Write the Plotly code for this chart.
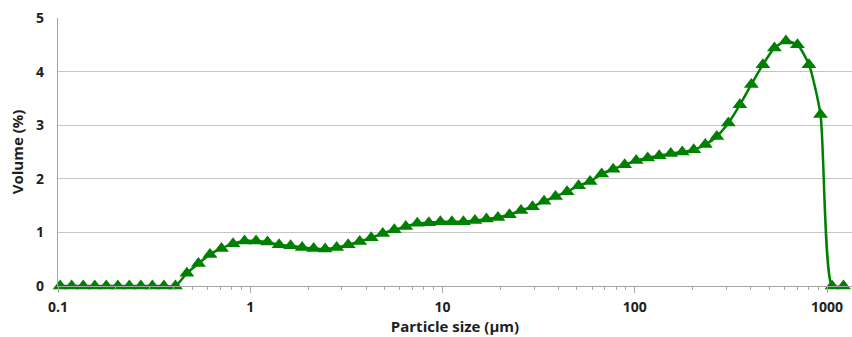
import plotly.graph_objects as go

# Particle size bins (µm)
sizes = [0.1026, 0.1178, 0.1353, 0.1553, 0.1783, 0.2047, 0.2349, 0.2697, 0.3096, 0.3554,
         0.4080, 0.4683, 0.5376, 0.6172, 0.7085, 0.8133, 0.9336, 1.0718, 1.2303, 1.4123,
         1.6212, 1.8611, 2.1364, 2.4525, 2.8153, 3.2318, 3.7099, 4.2588, 4.8889, 5.6122,
         6.4425, 7.3956, 8.4897, 9.7457, 11.1875, 12.8426, 14.7426, 16.9236, 19.4272, 22.3013,
         25.6006, 29.3880, 33.7357, 38.7265, 44.4558, 51.0327, 58.5827, 67.2494, 77.1984, 88.6193,
         101.7301, 116.7806, 134.0551, 153.8891, 176.6038, 202.7298, 232.7215, 267.1509, 306.6738, 352.0437,
         404.1261, 463.9139, 532.5474, 611.3354, 701.7735, 805.5936, 924.7743, 1061.5875, 1218.6270]

# Volume (%)
volume = [0, 0, 0, 0, 0, 0, 0, 0, 0, 0,
          0, 0.24, 0.42, 0.59, 0.70, 0.79, 0.84, 0.84, 0.82, 0.77,
          0.75, 0.72, 0.70, 0.69, 0.72, 0.77, 0.83, 0.90, 0.98, 1.05,
          1.11, 1.17, 1.18, 1.20, 1.20, 1.20, 1.22, 1.25, 1.28, 1.33,
          1.41, 1.48, 1.58, 1.67, 1.76, 1.87, 1.95, 2.09, 2.18, 2.26,
          2.34, 2.39, 2.43, 2.47, 2.50, 2.54, 2.64, 2.79, 3.04, 3.38,
          3.76, 4.13, 4.44, 4.57, 4.50, 4.13, 3.20, 0, 0]

x_ticks = [0.1, 1, 10, 100, 1000]
x_tick_labels = ["0.1", "1", "10", "100", "1000"]
y_ticks = [0, 1, 2, 3, 4, 5]

green = "#008000"
grid = "#c4c4c4"
axis_col = "#a6a6a6"
txt = "#1e1e1e"
font_family = "Open Sans, DejaVu Sans, sans-serif"

fig = go.Figure()
fig.add_trace(go.Scatter(
    x=sizes, y=volume, mode="lines+markers",
    line=dict(color=green, width=2.5, shape="spline", smoothing=0.6),
    marker=dict(symbol="triangle-up", size=13, color=green),
    cliponaxis=False, showlegend=False,
))

fig.update_layout(
    width=852, height=337,
    margin=dict(l=58, r=0, t=18, b=51, autoexpand=False),
    paper_bgcolor="white", plot_bgcolor="white",
    font=dict(family=font_family, color=txt),
)
fig.update_xaxes(
    type="log", range=[-1, 3.13],
    tickvals=x_ticks, ticktext=x_tick_labels,
    tickfont=dict(size=14, weight="bold", color=txt),
    showgrid=False, showline=True, linecolor=axis_col, linewidth=1.2,
    ticks="outside", ticklen=6, tickcolor=axis_col, ticklabelstandoff=2,
    minor=dict(ticks="outside", ticklen=3, tickcolor=axis_col,
               tickvals=[m * 10 ** e for e in range(-1, 4) for m in range(2, 10)], showgrid=False),
    title=dict(text="Particle size (µm)", font=dict(size=15, weight="bold", color=txt), standoff=6),
    zeroline=False, automargin=False,
)
fig.update_yaxes(
    range=[0, 5], tickvals=y_ticks,
    tickfont=dict(size=14, weight="bold", color=txt),
    showgrid=True, gridcolor=grid, gridwidth=1.2,
    showline=True, linecolor=axis_col, linewidth=1.2,
    ticks="", ticklabelstandoff=10,
    title=dict(text="Volume (%)", font=dict(size=15, weight="bold", color=txt), standoff=8),
    zeroline=False, automargin=False,
)

fig.write_html("out.html", config={"displayModeBar": False},
               post_script="document.body.style.margin='0';")
